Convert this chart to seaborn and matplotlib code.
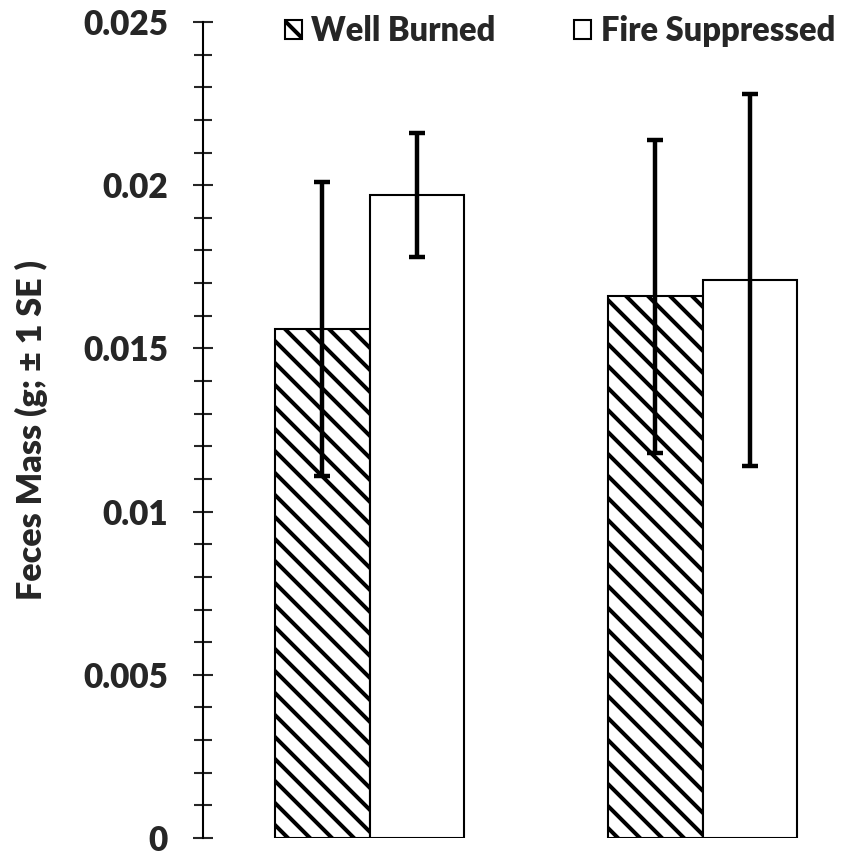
import matplotlib
matplotlib.use("Agg")
import matplotlib.pyplot as plt
import seaborn as sns
import pandas as pd
from matplotlib.ticker import MultipleLocator
from matplotlib.patches import Patch

sites = ["Site 1", "Site 1", "Site 2", "Site 2"]
treatments = ["Well Burned", "Fire Suppressed", "Well Burned", "Fire Suppressed"]
mass = [0.0156, 0.0197, 0.0166, 0.0171]
se = [0.0045, 0.0019, 0.0048, 0.0057]
yticks = [0, 0.005, 0.01, 0.015, 0.02, 0.025]
ytick_labels = ["0", "0.005", "0.01", "0.015", "0.02", "0.025"]
order = ["Well Burned", "Fire Suppressed"]

DPI = 132
k = 100 / DPI  # keep pixel sizes as if at 100 dpi

sns.set_style("white")
plt.rcParams["font.family"] = ["Lato", "DejaVu Sans"]
plt.rcParams["font.weight"] = "heavy"
plt.rcParams["hatch.linewidth"] = 2.9 * k

df = pd.DataFrame({"site": sites, "treatment": treatments, "mass": mass, "se": se})

fig = plt.figure(figsize=(848 / DPI, 855 / DPI), dpi=DPI)
ax = fig.add_axes([203/848, 1-838/855, (869-203)/848, (838-22)/855])

sns.barplot(data=df, x="site", y="mass", hue="treatment", width=0.57,
            errorbar=None, ax=ax, legend=False, hue_order=order)

hatches = {"Well Burned": "\\\\", "Fire Suppressed": ""}
bars = ax.patches[:4]
for i, p in enumerate(bars):
    t = order[i // 2]
    p.set_facecolor("white")
    p.set_edgecolor("black")
    p.set_linewidth(1.5 * k)
    p.set_hatch(hatches[t])

for i, p in enumerate(bars):
    t = order[i // 2]
    s = ["Site 1", "Site 2"][i % 2]
    row = df[(df.site == s) & (df.treatment == t)].iloc[0]
    xc = p.get_x() + p.get_width() / 2
    ax.errorbar(xc, row.mass, yerr=row.se, color="black", lw=3.2 * k,
                capsize=5.5 * k, capthick=3.2 * k, fmt="none", zorder=5)

ax.set_xlim(-0.5, 1.5)
ax.set_ylim(0, 0.025)
ax.yaxis.set_minor_locator(MultipleLocator(0.001))
ax.set_yticks(yticks)
ax.set_yticklabels(ytick_labels, fontsize=24 * k, fontweight="heavy")
ax.tick_params(axis="y", which="major", direction="inout", length=14.5 * k,
               width=1.5 * k, pad=18 * k, left=True)
ax.tick_params(axis="y", which="minor", direction="inout", length=13 * k,
               width=1.5 * k, left=True)
ax.set_xticks([])
ax.set_xlabel("")
ax.set_ylabel("Feces Mass (g; ± 1 SE )", fontsize=24.5 * k, fontweight="heavy")
ax.yaxis.set_label_coords(-0.232, 0.5)

for side in ["top", "right", "bottom"]:
    ax.spines[side].set_visible(False)
ax.spines["left"].set_linewidth(1.5 * k)
ax.spines["left"].set_color("black")

handles = [Patch(facecolor="white", edgecolor="black", hatch="\\\\", lw=1.5 * k),
           Patch(facecolor="white", edgecolor="black", lw=1.5 * k)]
fig.legend(handles, order, loc="upper left", bbox_to_anchor=(270/848, 1.0),
           ncol=2, frameon=False, prop={"weight": "heavy", "size": 23.5 * k},
           handlelength=0.52, handleheight=0.52, handletextpad=0.3, columnspacing=2.4,
           borderaxespad=0.05)

fig.savefig("out.png", dpi=DPI)
